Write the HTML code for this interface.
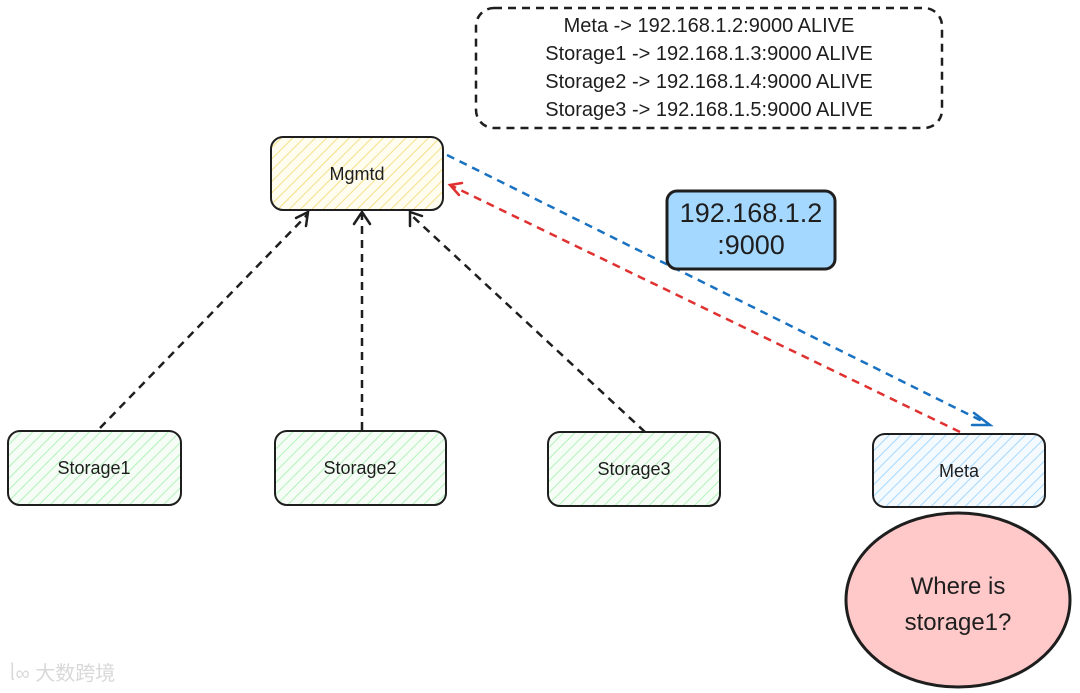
<!DOCTYPE html>
<html><head><meta charset="utf-8"><style>
body{margin:0;background:#fff;}
svg{display:block;}
text{font-family:"Liberation Sans","Noto Sans CJK SC",sans-serif;fill:#1e1e1e;}
</style></head><body>
<svg width="1080" height="693" viewBox="0 0 1080 693" xmlns="http://www.w3.org/2000/svg">
<defs>
<pattern id="hy" width="8" height="8" patternUnits="userSpaceOnUse" patternTransform="rotate(45)"><rect width="8" height="8" fill="#fffdf0"/><line x1="0" y1="0" x2="0" y2="8" stroke="#f5e08a" stroke-width="2"/></pattern>
<pattern id="hg" width="8" height="8" patternUnits="userSpaceOnUse" patternTransform="rotate(45)"><rect width="8" height="8" fill="#f6fdf6"/><line x1="0" y1="0" x2="0" y2="8" stroke="#b2f2bb" stroke-width="2"/></pattern>
<pattern id="hb" width="8" height="8" patternUnits="userSpaceOnUse" patternTransform="rotate(45)"><rect width="8" height="8" fill="#f5fafe"/><line x1="0" y1="0" x2="0" y2="8" stroke="#a5d8ff" stroke-width="2"/></pattern>
</defs>
<rect x="476" y="8" width="466" height="120" rx="18" fill="#fff" stroke="#1e1e1e" stroke-width="2.5" stroke-dasharray="8,6"/>
<g font-size="20" text-anchor="middle">
<text x="709" y="32">Meta -&gt; 192.168.1.2:9000 ALIVE</text>
<text x="709" y="60">Storage1 -&gt; 192.168.1.3:9000 ALIVE</text>
<text x="709" y="88">Storage2 -&gt; 192.168.1.4:9000 ALIVE</text>
<text x="709" y="116">Storage3 -&gt; 192.168.1.5:9000 ALIVE</text>
</g>
<rect x="271" y="137" width="172" height="73" rx="12" fill="url(#hy)" stroke="#1e1e1e" stroke-width="2"/>
<text x="357" y="180" font-size="18" text-anchor="middle">Mgmtd</text>
<g fill="none" stroke-width="2.5" stroke-dasharray="8,6">
<line x1="100" y1="428" x2="308" y2="214" stroke="#1e1e1e"/>
<line x1="362" y1="430" x2="362" y2="214" stroke="#1e1e1e"/>
<line x1="645" y1="432" x2="410" y2="214" stroke="#1e1e1e"/>
<line x1="447" y1="155" x2="988" y2="424" stroke="#1971c2"/>
<line x1="960" y1="432" x2="452" y2="186" stroke="#e03131"/>
</g>
<g fill="none" stroke-width="2.5" stroke-linecap="round">
<path d="M296 218 L308 212 L306 226" stroke="#1e1e1e"/>
<path d="M354 224 L362 212 L370 224" stroke="#1e1e1e"/>
<path d="M410 226 L410 212 L422 216" stroke="#1e1e1e"/>
<path d="M974 413 L990 425 L972 425" stroke="#1971c2"/>
<path d="M462 183 L450 185 L459 195" stroke="#e03131"/>
</g>
<rect x="667" y="191" width="168" height="78" rx="10" fill="#a5d8ff" stroke="#1e1e1e" stroke-width="3"/>
<text x="751" y="222" font-size="27" text-anchor="middle">192.168.1.2</text>
<text x="751" y="254" font-size="27" text-anchor="middle">:9000</text>
<rect x="8" y="431" width="173" height="74" rx="12" fill="url(#hg)" stroke="#1e1e1e" stroke-width="2"/>
<text x="94" y="474" font-size="18" text-anchor="middle">Storage1</text>
<rect x="275" y="431" width="171" height="74" rx="12" fill="url(#hg)" stroke="#1e1e1e" stroke-width="2"/>
<text x="360" y="474" font-size="18" text-anchor="middle">Storage2</text>
<rect x="548" y="432" width="172" height="74" rx="12" fill="url(#hg)" stroke="#1e1e1e" stroke-width="2"/>
<text x="634" y="475" font-size="18" text-anchor="middle">Storage3</text>
<rect x="873" y="434" width="172" height="73" rx="12" fill="url(#hb)" stroke="#1e1e1e" stroke-width="2"/>
<text x="959" y="477" font-size="18" text-anchor="middle">Meta</text>
<ellipse cx="958" cy="600" rx="112" ry="87" fill="#ffc9c9" stroke="#1e1e1e" stroke-width="3"/>
<text x="958" y="594" font-size="24" text-anchor="middle">Where is</text>
<text x="958" y="630" font-size="24" text-anchor="middle">storage1?</text>
<text x="10" y="680" font-size="20" style="fill:#d8d8d8">ᥣ∞ 大数跨境</text>
</svg>
</body></html>
